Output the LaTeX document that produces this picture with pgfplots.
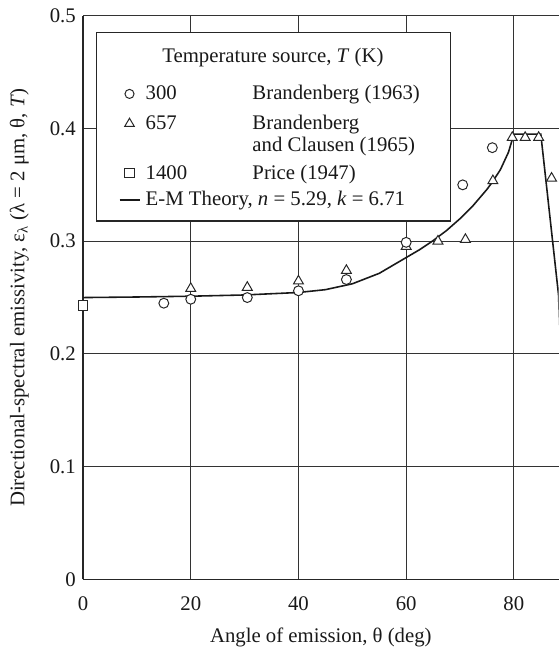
\documentclass[border=0pt]{standalone}
\usepackage{pgfplots}
\pgfplotsset{compat=1.18}
\usepackage{fontspec}
\setmainfont{Liberation Serif}

\begin{document}
\fontsize{10.5}{12.6}\selectfont
\begin{tikzpicture}
\begin{axis}[
  width=240.5pt, height=285pt, scale only axis,
  xmin=0, xmax=88.3, ymin=0, ymax=0.5,
  axis lines=left,
  axis line style={-, line width=0.6pt, black!85},
  xtick={0,20,40,60,80},
  ytick={0,0.1,0.2,0.3,0.4,0.5},
  major tick length=0pt,
  grid=major,
  major grid style={line width=0.55pt, black!80},
  tick label style={font=\fontsize{10.5}{12}\selectfont, black!90},
  xticklabel style={yshift=-5pt},
  /pgf/number format/assume math mode=true,
  xlabel={Angle of emission, θ (deg)},
  ylabel={Directional-spectral emissivity, ε\textsubscript{λ} (λ = 2 μm, θ, \textit{T})},
  xlabel style={at={(axis description cs:0.5,-0.1123)}, anchor=base, black!90},
  ylabel style={at={(axis description cs:-0.134,0.5)}, anchor=center, black!90},
]
% E-M theory curve
\addplot[black!90, line width=0.8pt, no marks] coordinates {
(0,0.250) (10,0.2505) (20,0.2512) (30,0.2523) (40,0.2545) (45,0.2570)
(50,0.2622) (55,0.2715) (60,0.2855) (62.5,0.2925) (65,0.3005) (67.5,0.3095)
(70,0.3200) (72.5,0.3320) (75,0.3460) (76,0.3525) (77.5,0.3635) (79,0.3790)
(80,0.3950) (85,0.3950) (86.5,0.330) (88.3,0.252) (90,0)
};
% 657 K, Brandenberg and Clausen (1965)
\addplot[only marks, mark=triangle*, mark size=2.9pt,
  mark options={draw=black!85, fill=white, line width=0.5pt}] coordinates {
(20,0.258) (30.5,0.259) (40,0.2646) (48.9,0.274) (60,0.2953) (65.9,0.300)
(71,0.3015) (76.1,0.3536) (79.7,0.392) (82.1,0.392) (84.6,0.392) (87,0.3558)
};
% 300 K, Brandenberg (1963)
\addplot[only marks, mark=*, mark size=2.5pt,
  mark options={draw=black!85, fill=white, line width=0.5pt}] coordinates {
(15,0.245) (20,0.2485) (30.5,0.250) (40,0.256) (48.9,0.266) (60,0.299)
(70.5,0.350) (76,0.383)
};
% 1400 K, Price (1947)
\addplot[only marks, mark=square*, mark size=2.5pt,
  mark options={draw=black!85, fill=white, line width=0.5pt}] coordinates {
(0,0.243)
};
\end{axis}
% legend box
\node[draw=black!85, line width=0.6pt, fill=white, anchor=north west,
  minimum width=179pt, minimum height=95.5pt, inner sep=0pt] (lg)
  at ([xshift=6.5pt, yshift=-8pt]current axis.north west) {};
\begin{scope}[every node/.style={inner sep=0pt, text=black!90}]
\node[anchor=base] at ([xshift=89.5pt, yshift=-15.5pt]lg.north west) {Temperature source, \textit{T} (K)};
\node[anchor=base west] at ([xshift=25pt, yshift=-34.5pt]lg.north west) {300};
\node[anchor=base west] at ([xshift=79pt, yshift=-34.5pt]lg.north west) {Brandenberg (1963)};
\node[anchor=base west] at ([xshift=25pt, yshift=-49.5pt]lg.north west) {657};
\node[anchor=base west] at ([xshift=79pt, yshift=-49.5pt]lg.north west) {Brandenberg};
\node[anchor=base west] at ([xshift=79pt, yshift=-60.5pt]lg.north west) {and Clausen (1965)};
\node[anchor=base west] at ([xshift=25pt, yshift=-75pt]lg.north west) {1400};
\node[anchor=base west] at ([xshift=79pt, yshift=-75pt]lg.north west) {Price (1947)};
\node[anchor=base west] at ([xshift=25pt, yshift=-88pt]lg.north west) {E-M Theory, \textit{n} = 5.29, \textit{k} = 6.71};
\end{scope}
\draw[black!85, line width=0.5pt] ([xshift=17pt, yshift=-31.5pt]lg.north west) circle (2.3pt);
\draw[black!85, line width=0.5pt] ([xshift=17pt, yshift=-46.5pt]lg.north west)
  ++(0,2.7pt) -- ++(-2.4pt,-4.1pt) -- ++(4.8pt,0) -- cycle;
\draw[black!85, line width=0.5pt] ([xshift=14.7pt, yshift=-73.8pt]lg.north west) rectangle ++(4.6pt,4.6pt);
\draw[black!90, line width=0.9pt] ([xshift=12pt, yshift=-85pt]lg.north west) -- ++(10.5pt,0);
% page extent
\path ([xshift=-42pt, yshift=-34pt]current axis.south west) ([yshift=8pt]current axis.north east);
\end{tikzpicture}
\end{document}
